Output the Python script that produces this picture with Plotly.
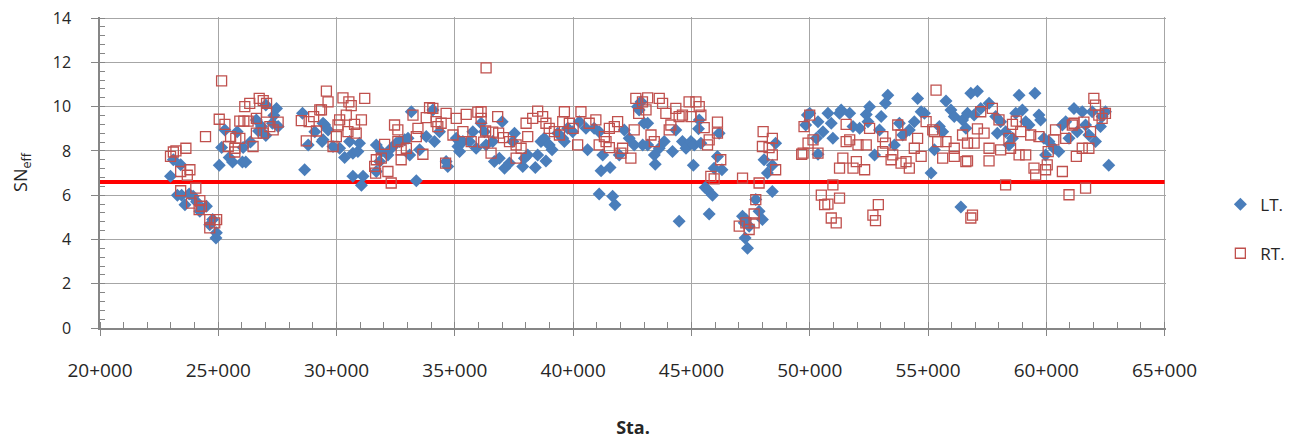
import plotly.graph_objects as go

# Station (km) and SN_eff values
lt_sta = [22.98, 23.10, 23.41, 23.27, 23.45, 23.59, 23.77, 23.94, 24.08, 24.22, 24.33, 24.50, 24.64, 24.76,
          24.90, 24.92, 25.04, 25.14, 25.28, 25.46, 25.60, 25.80, 26.02, 26.05, 26.16, 26.36, 26.61, 26.70,
          26.83, 27.01, 27.01, 27.29, 27.35, 27.46, 27.53, 28.56, 28.65, 28.80, 29.08, 29.39, 29.50,
          29.43, 29.43, 29.64, 29.85, 30.13, 30.34, 30.55, 30.69, 30.69, 30.90, 30.97, 31.05, 31.12, 31.68,
          31.68, 31.82, 31.89, 32.17, 32.31, 32.52, 32.66, 32.88, 33.02, 33.09, 33.16, 33.37, 33.51, 33.79,
          34.07, 34.14, 34.35, 34.63, 34.70, 35.06, 35.13, 35.20, 35.34, 35.62, 35.76, 35.90, 36.11, 36.25,
          36.32, 36.60, 36.67, 36.88, 37.00, 37.10, 37.31, 37.45, 37.52, 37.87, 37.94, 38.08, 38.40, 38.50,
          38.64, 38.78, 38.85, 38.99, 39.11, 39.35, 39.56, 39.63, 39.77, 39.98, 40.26, 40.54, 40.61, 40.89,
          41.10, 41.10, 41.18, 41.25, 41.56, 41.67, 41.77, 41.95, 42.16, 42.37, 42.58, 42.72, 42.79, 43.00,
          42.87, 42.94, 43.15, 43.15, 43.43, 43.47, 43.64, 43.85, 44.20, 44.34, 44.48, 44.62, 44.77, 44.98,
          45.08, 45.12, 45.30, 45.33, 45.40, 45.58, 45.68, 45.75, 45.89, 45.96, 46.10, 46.17, 46.29, 47.16,
          47.23, 47.27, 47.30, 47.37, 47.44, 47.72, 47.86, 48.00, 48.07, 48.21, 48.42, 48.42, 48.56, 49.83,
          49.90, 50.00, 50.28, 50.35, 50.35, 50.56, 50.77, 50.91, 50.98, 51.26, 51.33, 51.69, 51.83, 52.11,
          52.39, 52.46, 52.53, 52.74, 52.95, 53.02, 53.20, 53.30, 53.58, 53.79, 53.93, 54.21, 54.42, 54.56,
          54.71, 54.85, 55.13, 55.27, 55.48, 55.62, 55.76, 55.97, 56.11, 56.39, 56.60, 56.46, 56.67, 56.81,
          56.95, 57.09, 57.23, 57.58, 57.86, 57.93, 58.07, 58.28, 58.42, 58.57, 58.71, 58.85, 58.99, 59.13,
          59.27, 59.52, 59.69, 59.76, 59.90, 59.97, 60.11, 60.32, 60.53, 60.68, 60.82, 60.96, 61.17, 61.31,
          61.52, 61.66, 61.80, 61.94, 62.08, 62.29, 62.36, 62.50, 62.64]
lt_val = [6.85, 7.6, 7.37, 6.0, 6.0, 5.57, 6.05, 5.95, 5.7, 5.27, 5.4, 5.5, 4.67, 4.9,
          4.07, 4.3, 7.35, 8.15, 8.95, 7.7, 7.5, 8.87, 7.5, 8.15, 7.5, 8.4, 9.4, 8.9,
          9.1, 8.7, 10.07, 9.25, 9.6, 9.92, 9.1, 9.7, 7.15, 8.27, 8.87, 8.42, 9.17,
          9.25, 8.5, 8.95, 8.2, 8.12, 7.7, 8.42, 7.9, 6.85, 7.97, 8.35, 6.45, 6.85, 8.27,
          7.07, 7.52, 7.97, 7.82, 8.12, 8.35, 8.42, 8.5, 8.57, 7.82, 9.77, 6.65, 8.05, 8.65,
          9.85, 8.42, 8.87, 7.52, 7.3, 8.57, 8.2, 7.97, 8.42, 8.42, 8.87, 8.12, 9.25, 8.87,
          8.27, 8.42, 7.52, 7.67, 9.32, 7.22, 7.45, 8.42, 8.8, 7.3, 7.67, 7.82, 7.25, 7.82,
          8.42, 8.57, 7.55, 8.27, 8.05, 8.8, 8.57, 8.42, 9.02, 8.87, 9.32, 9.02, 8.05, 9.02,
          8.87, 6.05, 7.1, 7.82, 7.25, 5.95, 5.57, 7.82, 8.95, 8.57, 8.27, 10.0, 9.85, 9.25,
          10.22, 8.27, 9.25, 8.27, 7.82, 7.4, 8.12, 8.42, 7.97, 8.95, 4.82, 8.42, 8.12, 8.42,
          7.35, 8.27, 9.0, 9.4, 8.35, 6.35, 6.25, 5.15, 6.0, 7.22, 7.75, 8.8, 7.15, 5.05,
          4.75, 4.07, 4.9, 3.6, 4.6, 5.8, 5.27, 4.9, 7.6, 7.0, 7.35, 6.17, 8.35, 9.17,
          9.62, 9.7, 8.57, 9.32, 7.85, 8.87, 9.7, 9.25, 8.57, 9.7, 9.85, 9.7, 9.1, 9.02,
          9.65, 9.32, 10.0, 7.82, 8.95, 9.55, 10.15, 10.52, 8.27, 9.25, 8.72, 8.95, 9.32, 10.37,
          9.77, 9.7, 7.0, 8.05, 9.1, 8.87, 10.25, 9.85, 9.55, 5.47, 9.02, 9.4, 9.7, 10.6,
          9.62, 10.7, 9.92, 10.15, 9.55, 8.8, 9.32, 8.87, 8.27, 8.57, 9.7, 10.52, 9.85, 9.32,
          9.17, 10.6, 9.62, 9.4, 8.57, 7.82, 8.42, 8.12, 7.97, 9.17, 9.32, 8.57, 9.92, 8.87,
          9.77, 9.17, 8.72, 9.77, 8.42, 9.1, 9.55, 9.77, 7.35]

rt_sta = [22.98, 23.10, 23.21, 23.41, 23.41, 23.63, 23.69, 23.80, 23.87, 24.05, 24.19, 24.22, 24.29, 24.46,
          24.64, 24.64, 24.85, 24.93, 25.04, 25.14, 25.28, 25.42, 25.52, 25.70, 25.70, 25.74, 25.91, 25.91,
          26.08, 26.12, 26.26, 26.33, 26.47, 26.61, 26.61, 26.73, 26.90, 26.90, 27.04, 27.04, 27.18, 27.32,
          27.53, 28.51, 28.72, 28.84, 29.03, 29.15, 29.29, 29.57, 29.36, 29.64, 29.85, 29.99, 30.06, 30.13,
          30.27, 30.41, 30.48, 30.52, 30.62, 30.76, 30.83, 31.05, 31.19, 31.61, 31.65, 31.68, 31.89, 32.03,
          32.17, 32.31, 32.45, 32.59, 32.59, 32.73, 32.73, 32.95, 33.23, 33.37, 33.44, 33.65, 33.79, 33.93,
          34.07, 34.21, 34.28, 34.42, 34.61, 34.63, 34.92, 35.06, 35.34, 35.48, 35.69, 35.97, 36.11, 36.22,
          36.32, 36.11, 36.30, 36.53, 36.60, 36.81, 36.85, 37.05, 37.31, 37.59, 37.59, 37.80, 38.01, 38.08,
          38.29, 38.50, 38.71, 38.85, 38.99, 39.21, 39.42, 39.56, 39.63, 39.84, 40.00, 40.19, 40.33, 40.68,
          40.96, 41.10, 41.32, 41.39, 41.53, 41.53, 41.74, 41.88, 42.02, 42.09, 42.44, 42.58, 42.65, 42.77,
          42.93, 43.08, 43.15, 43.29, 43.43, 43.64, 43.78, 43.92, 44.06, 44.13, 44.34, 44.48, 44.62, 44.90,
          44.98, 45.19, 45.33, 45.40, 45.54, 45.68, 45.75, 45.82, 45.96, 46.10, 46.10, 46.24, 47.02, 47.16,
          47.30, 47.44, 47.65, 47.65, 47.72, 47.86, 48.00, 48.03, 48.28, 48.42, 48.42, 48.56, 49.66, 49.76,
          49.72, 49.93, 50.00, 50.14, 50.35, 50.49, 50.63, 50.77, 50.91, 50.98, 51.12, 51.26, 51.26, 51.40,
          51.54, 51.54, 51.69, 51.83, 51.97, 52.04, 52.32, 52.39, 52.53, 52.67, 52.78, 52.90, 53.09, 53.09,
          53.20, 53.44, 53.51, 53.72, 53.86, 53.86, 54.07, 54.21, 54.42, 54.56, 54.71, 54.92, 55.20, 55.27,
          55.34, 55.41, 55.62, 55.76, 56.11, 56.11, 56.46, 56.60, 56.67, 56.67, 56.81, 56.88, 56.95, 57.09,
          57.23, 57.37, 57.58, 57.58, 57.72, 58.00, 58.07, 58.28, 58.42, 58.49, 58.57, 58.73, 58.85, 58.92,
          59.13, 59.34, 59.48, 59.55, 59.69, 59.97, 60.04, 60.08, 60.32, 60.39, 60.68, 60.82, 60.96, 61.10,
          61.17, 61.27, 61.52, 61.59, 61.66, 61.80, 61.87, 62.01, 62.08, 62.22, 62.36, 62.50]
rt_val = [7.75, 7.95, 8.0, 7.07, 6.2, 8.12, 6.9, 7.15, 5.64, 6.32, 5.35, 5.75, 5.5, 8.65,
          4.9, 4.52, 4.75, 4.9, 9.43, 11.16, 9.2, 8.2, 8.65, 8.12, 7.95, 8.57, 8.57, 9.35,
          9.35, 10.0, 9.35, 10.15, 8.2, 9.47, 8.8, 10.37, 10.27, 8.8, 10.15, 9.75, 9.1, 8.95,
          9.3, 9.37, 8.45, 9.32, 9.55, 8.9, 9.85, 10.7, 9.85, 10.22, 8.2, 8.65, 9.17, 9.4,
          10.4, 9.62, 8.87, 10.22, 10.05, 9.2, 8.8, 9.4, 10.37, 7.3, 7.0, 7.6, 7.67, 8.3,
          7.07, 6.55, 9.17, 8.95, 8.42, 8.05, 7.6, 8.12, 9.62, 8.65, 9.02, 7.85, 9.5, 9.95,
          9.92, 9.32, 9.1, 9.25, 7.45, 9.7, 8.72, 9.47, 8.87, 9.65, 8.42, 9.75, 9.47, 8.4,
          11.75, 9.77, 8.9, 7.9, 8.85, 9.55, 8.8, 8.6, 8.42, 8.27, 7.67, 8.12, 9.25, 8.65,
          9.47, 9.8, 9.55, 9.25, 9.02, 8.87, 8.72, 9.32, 9.77, 9.25, 9.02, 8.27, 9.77, 9.25,
          9.4, 8.27, 8.65, 8.42, 9.02, 8.15, 9.1, 9.32, 7.9, 8.12, 7.67, 8.95, 10.37, 9.7,
          10.22, 9.85, 10.4, 8.72, 8.42, 10.37, 10.15, 9.7, 8.95, 9.17, 9.92, 9.55, 9.62, 10.22,
          9.55, 10.22, 10.0, 9.62, 9.05, 8.27, 8.5, 6.85, 6.74, 9.3, 8.8, 7.6, 4.6, 6.77,
          4.75, 4.45, 5.15, 4.75, 5.8, 6.55, 8.2, 8.87, 8.15, 8.57, 7.82, 7.15, 7.85, 9.1,
          7.9, 8.35, 9.62, 8.5, 7.9, 6.0, 5.57, 5.6, 4.97, 6.47, 4.75, 5.87, 7.22, 7.67,
          9.2, 8.42, 8.5, 7.22, 7.52, 8.27, 7.15, 8.27, 9.02, 5.1, 4.85, 5.57, 8.65, 7.97,
          8.35, 7.6, 7.82, 9.17, 8.72, 7.45, 7.52, 7.22, 8.12, 8.57, 7.75, 9.32, 8.95, 8.87,
          10.75, 8.42, 7.67, 8.42, 8.12, 7.75, 8.72, 7.52, 8.35, 7.55, 4.97, 5.1, 8.35, 9.0,
          9.77, 8.8, 8.12, 7.55, 9.92, 9.4, 8.05, 6.47, 8.57, 8.12, 9.2, 9.35, 7.82, 8.87,
          7.82, 8.72, 7.22, 6.92, 8.65, 7.15, 7.37, 7.97, 8.5, 8.95, 7.07, 8.57, 6.02, 9.17,
          9.25, 7.75, 8.12, 9.3, 6.32, 8.12, 8.87, 10.37, 10.07, 9.62, 9.47, 9.7]

threshold = 6.6
line_span = [20, 65]
x_range = [20, 65.06]
x_ticks = [20, 25, 30, 35, 40, 45, 50, 55, 60, 65]
x_labels = ["20+000", "25+000", "30+000", "35+000", "40+000", "45+000", "50+000", "55+000", "60+000", "65+000"]
y_range = [0, 14.05]
y_ticks = [0, 2, 4, 6, 8, 10, 12, 14]

FONT = "Open Sans"
GRID = "#A6A6A6"
AXIS = "#868686"
TXT = "#262626"

fig = go.Figure()
fig.add_trace(go.Scatter(
    x=line_span, y=[threshold, threshold], mode="lines",
    line=dict(color="#FF0000", width=4), showlegend=False, hoverinfo="skip"))
fig.add_trace(go.Scatter(
    x=lt_sta, y=lt_val, mode="markers", name="LT.", legendgroup="lt",
    marker=dict(symbol="diamond", size=10, color="#4A7EBB", line=dict(width=0))))
fig.add_trace(go.Scatter(
    x=rt_sta, y=rt_val, mode="markers", name="RT.", legendgroup="rt",
    marker=dict(symbol="square-open", size=10, color="#C0504D", line=dict(width=1.3))))

# the page body adds an 8px offset, so the figure is 8px smaller than the window
fig.update_layout(
    width=1290, height=431,
    margin=dict(l=92, r=132, t=9, b=111, autoexpand=False),
    paper_bgcolor="white", plot_bgcolor="white",
    font=dict(family=FONT, size=16, color=TXT),
    legend=dict(x=1.051, y=0.318, xanchor="left", yanchor="middle",
                tracegroupgap=24, font=dict(size=17, color=TXT),
                bgcolor="rgba(0,0,0,0)"),
    xaxis=dict(
        range=x_range, tickmode="array", tickvals=x_ticks, ticktext=x_labels,
        tickfont=dict(size=19, color=TXT), automargin=False,
        showgrid=True, gridcolor=GRID, gridwidth=1,
        showline=True, linecolor=AXIS, linewidth=1.5, zeroline=False,
        ticks="outside", ticklen=6, tickcolor=AXIS, ticklabelstandoff=18,
        minor=dict(dtick=1, ticks="inside", ticklen=6, tickcolor=AXIS, showgrid=False),
        title=dict(text="<b>Sta.</b>", standoff=40, font=dict(size=18, color=TXT))),
    yaxis=dict(
        range=y_range, tickmode="array", tickvals=y_ticks,
        tickfont=dict(size=16, color=TXT), automargin=False, ticklabeloverflow="allow",
        showgrid=True, gridcolor=GRID, gridwidth=1,
        showline=True, linecolor=AXIS, linewidth=1.5, zeroline=False,
        ticks="outside", ticklen=7, tickcolor=AXIS, ticklabelstandoff=17,
        minor=dict(dtick=0.4, ticks="inside", ticklen=5, tickcolor=AXIS, showgrid=False),
        title=dict(text="SN<sub>eff</sub>", standoff=26, font=dict(size=18, color=TXT))),
)

fig.write_html("out.html")
